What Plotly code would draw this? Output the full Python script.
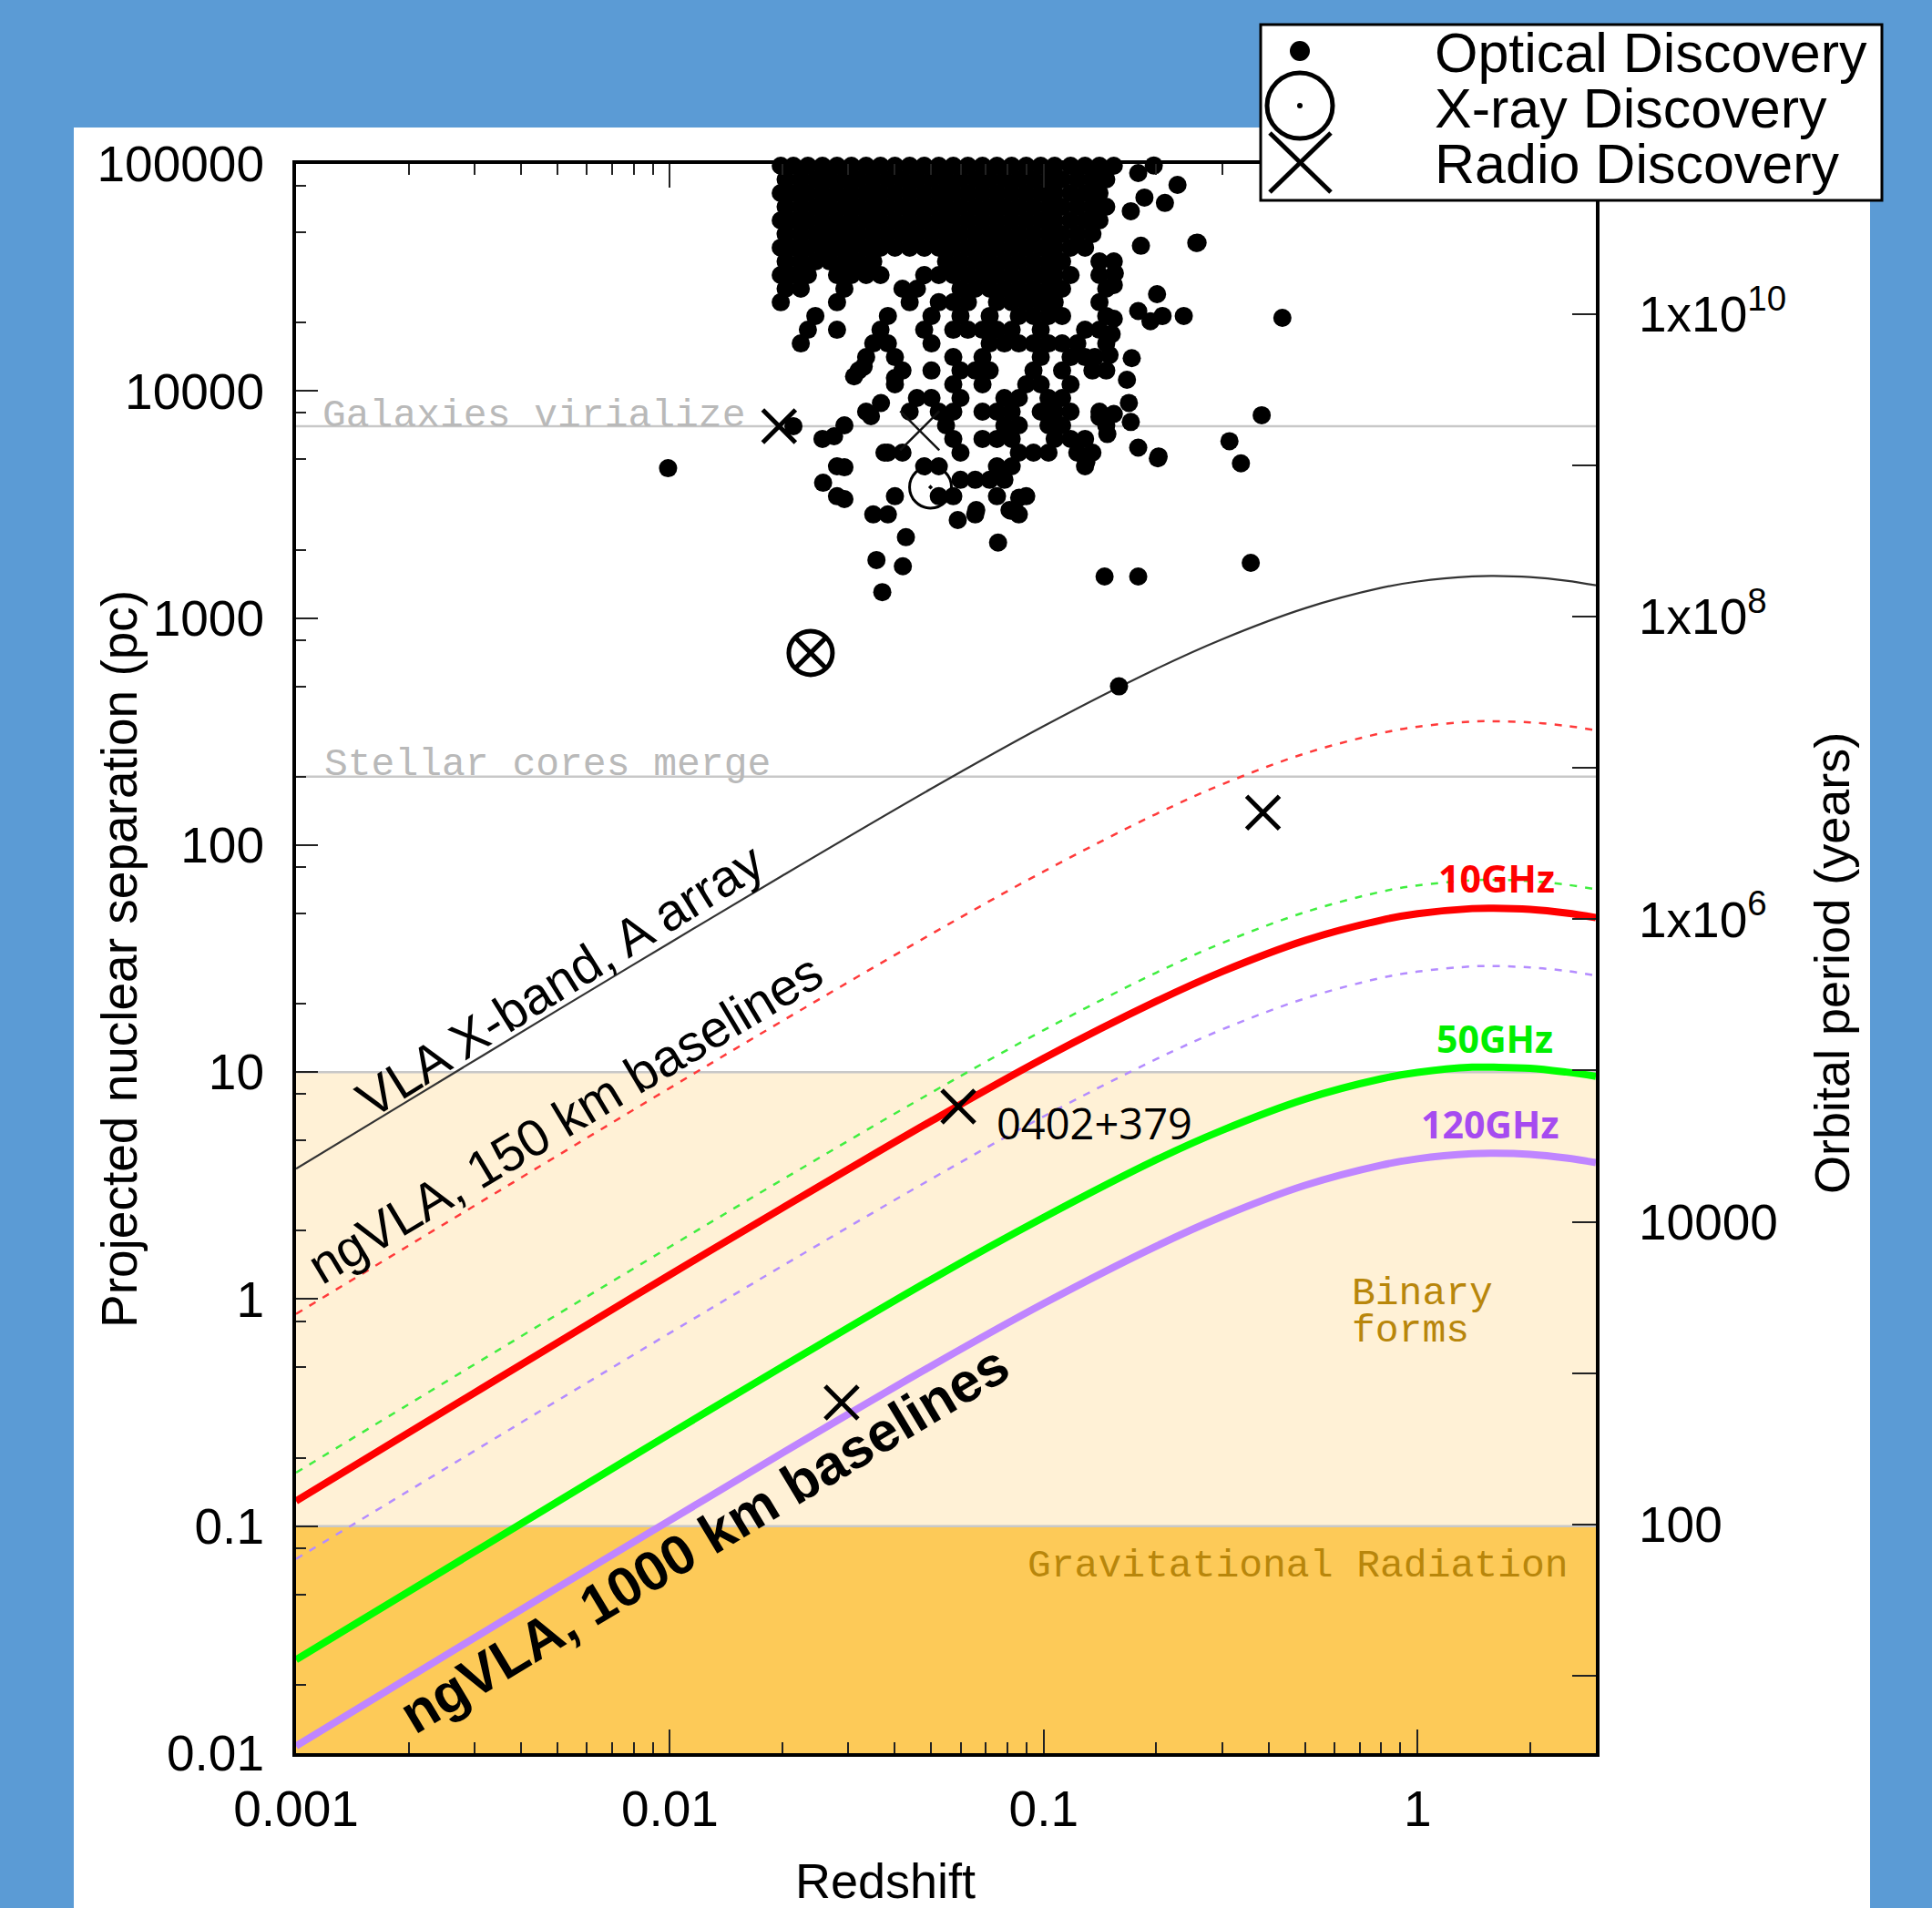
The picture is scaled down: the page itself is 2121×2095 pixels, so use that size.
import plotly.graph_objects as go

# ---------------- data ----------------
z_curve = [0.001, 0.002, 0.005, 0.01, 0.02, 0.05, 0.1, 0.2, 0.3, 0.5, 0.8, 1.0, 1.4, 1.6, 2.0, 2.5, 3.0]
vla_xband_a = [3.75, 7.49, 18.7, 37.1, 73.3, 177, 334, 597, 806, 1104, 1358, 1448, 1525, 1532, 1514, 1460, 1393]
ngvla150_10ghz = [0.86, 1.72, 4.28, 8.51, 16.8, 40.5, 76.5, 137, 185, 253, 311, 332, 350, 351, 347, 335, 320]
ngvla150_50ghz = [0.172, 0.344, 0.856, 1.70, 3.36, 8.11, 15.3, 27.4, 37.0, 50.6, 62.3, 66.4, 69.9, 70.3, 69.4, 66.9, 63.9]
ngvla150_120ghz = [0.0717, 0.143, 0.357, 0.709, 1.40, 3.38, 6.38, 11.4, 15.4, 21.1, 26.0, 27.7, 29.2, 29.3, 28.9, 27.9, 26.6]
ngvla1000_10ghz = [0.129, 0.258, 0.642, 1.28, 2.52, 6.08, 11.5, 20.5, 27.7, 38.0, 46.7, 49.8, 52.5, 52.7, 52.1, 50.2, 47.9]
ngvla1000_50ghz = [0.0258, 0.0515, 0.128, 0.255, 0.504, 1.22, 2.29, 4.11, 5.54, 7.60, 9.34, 9.96, 10.5, 10.5, 10.4, 10.0, 9.59]
ngvla1000_120ghz = [0.01075, 0.0215, 0.0535, 0.106, 0.210, 0.507, 0.956, 1.71, 2.31, 3.17, 3.89, 4.15, 4.37, 4.39, 4.34, 4.18, 3.99]

# optical discoveries: rows of equal separation (pc) and the redshifts of the dots in each row
optical_row_sep = [98200, 85500, 74400, 64800, 56400, 49100, 42800, 37200, 32400, 28200,
                   24600, 21400, 18600, 16200, 14100, 12300, 10700, 9310, 8110, 7060,
                   6150, 5350, 4660, 4060, 3440, 2860]
optical_row_z = [
    [0.0198, 0.0214, 0.0234, 0.0256, 0.0280, 0.0306, 0.0335, 0.0366, 0.0400, 0.0438, 0.0479, 0.0524, 0.0573, 0.0627, 0.0686, 0.0750, 0.0821, 0.0898, 0.0982, 0.107, 0.118, 0.129, 0.141, 0.154],
    [0.0204, 0.0224, 0.0245, 0.0268, 0.0293, 0.0320, 0.0350, 0.0383, 0.0419, 0.0458, 0.0501, 0.0548, 0.0599, 0.0656, 0.0717, 0.0785, 0.0858, 0.0939, 0.103, 0.112, 0.123, 0.135, 0.147],
    [0.0198, 0.0214, 0.0234, 0.0256, 0.0280, 0.0306, 0.0335, 0.0366, 0.0400, 0.0438, 0.0479, 0.0524, 0.0573, 0.0627, 0.0686, 0.0750, 0.0821, 0.0898, 0.0982, 0.107, 0.118, 0.129, 0.141],
    [0.0204, 0.0224, 0.0245, 0.0268, 0.0293, 0.0320, 0.0350, 0.0383, 0.0419, 0.0458, 0.0501, 0.0548, 0.0599, 0.0656, 0.0717, 0.0785, 0.0858, 0.0939, 0.103, 0.112, 0.123, 0.135, 0.147],
    [0.0198, 0.0214, 0.0234, 0.0256, 0.0280, 0.0306, 0.0335, 0.0366, 0.0400, 0.0438, 0.0479, 0.0524, 0.0573, 0.0627, 0.0686, 0.0750, 0.0821, 0.0898, 0.0982, 0.107, 0.118, 0.129, 0.141],
    [0.0204, 0.0224, 0.0245, 0.0268, 0.0293, 0.0320, 0.0350, 0.0383, 0.0419, 0.0458, 0.0501, 0.0548, 0.0599, 0.0656, 0.0717, 0.0785, 0.0858, 0.0939, 0.103, 0.112, 0.123, 0.135],
    [0.0198, 0.0214, 0.0234, 0.0256, 0.0280, 0.0306, 0.0335, 0.0366, 0.0400, 0.0438, 0.0479, 0.0524, 0.0573, 0.0627, 0.0686, 0.0750, 0.0821, 0.0898, 0.0982, 0.107, 0.118, 0.129],
    [0.0204, 0.0224, 0.0245, 0.0268, 0.0293, 0.0320, 0.0350, 0.0548, 0.0599, 0.0656, 0.0717, 0.0785, 0.0858, 0.0939, 0.103, 0.112, 0.141, 0.154],
    [0.0198, 0.0214, 0.0234, 0.0280, 0.0306, 0.0335, 0.0366, 0.0479, 0.0524, 0.0573, 0.0627, 0.0686, 0.0750, 0.0821, 0.0898, 0.0982, 0.107, 0.118, 0.141],
    [0.0204, 0.0224, 0.0293, 0.0419, 0.0458, 0.0599, 0.0656, 0.0717, 0.0785, 0.0858, 0.0939, 0.103, 0.112, 0.147],
    [0.0198, 0.0280, 0.0438, 0.0524, 0.0573, 0.0627, 0.0750, 0.0821, 0.0898, 0.0982, 0.107, 0.141],
    [0.0245, 0.0383, 0.0501, 0.0599, 0.0717, 0.0858, 0.0939, 0.103, 0.112, 0.147],
    [0.0234, 0.0280, 0.0366, 0.0479, 0.0573, 0.0627, 0.0686, 0.0750, 0.0821, 0.0982, 0.129, 0.141],
    [0.0224, 0.0350, 0.0383, 0.0501, 0.0717, 0.0785, 0.0858, 0.0939, 0.103, 0.112, 0.123, 0.147],
    [0.0335, 0.0400, 0.0573, 0.0686, 0.0982, 0.118, 0.129],
    [0.0320, 0.0419, 0.0501, 0.0599, 0.0656, 0.0717, 0.0939, 0.112, 0.135, 0.147],
    [0.0400, 0.0573, 0.0686, 0.0898, 0.0982, 0.118],
    [0.0458, 0.0501, 0.0599, 0.0785, 0.0858, 0.103, 0.112],
    [0.0335, 0.0438, 0.0524, 0.0573, 0.0686, 0.0750, 0.0821, 0.0982, 0.107, 0.118, 0.141],
    [0.0293, 0.0548, 0.0785, 0.0858, 0.103, 0.112, 0.147],
    [0.0256, 0.0573, 0.0686, 0.0750, 0.0821, 0.107, 0.118, 0.129],
    [0.0383, 0.0419, 0.0599, 0.0858, 0.0939, 0.103, 0.123, 0.135],
    [0.0280, 0.0479, 0.0524, 0.0750, 0.0821, 0.129],
    [0.0599, 0.0656, 0.0717, 0.0785],
    [0.0280, 0.0400, 0.0524, 0.0573, 0.0750, 0.0898],
    [0.0350, 0.0383, 0.0656, 0.0858],
]
optical_extra_z = [0.179, 0.197, 0.228, 0.211, 0.186, 0.171, 0.182, 0.256, 0.201, 0.179,
                   0.193, 0.208, 0.237, 0.167, 0.169, 0.171, 0.179, 0.203, 0.148, 0.130,
                   0.0816, 0.086, 0.141, 0.154, 0.172, 0.150, 0.137, 0.152, 0.154, 0.155,
                   0.154, 0.00989, 0.0214, 0.0257, 0.0293, 0.0275, 0.0293, 0.0311, 0.0330,
                   0.0400, 0.0367, 0.0345, 0.0375, 0.0660, 0.0589, 0.0810, 0.0428, 0.0755,
                   0.0357, 0.0420, 0.0370, 0.1455, 0.179, 0.435, 0.258, 0.383, 0.314,
                   0.337, 0.358, 0.159, 0.202]
optical_extra_sep = [91200, 98500, 80900, 67300, 71100, 61900, 43600, 44900, 26700, 22500,
                     20300, 21400, 21400, 11200, 8860, 7300, 5630, 5150, 6460, 4870,
                     2970, 3390, 7680, 7920, 13950, 14400, 14100, 17800, 20800, 33000,
                     29300, 4570, 7000, 3940, 3340, 6320, 4610, 11600, 12800,
                     11400, 8850, 7740, 5350, 2990, 2700, 2990, 2270, 2150,
                     1800, 1690, 1300, 1523, 1523, 21000, 45000, 7820, 6010,
                     4800, 1750, 500, 5050]

radio_z = [0.0196, 0.386, 0.0591, 0.0288]
radio_sep = [7000, 139, 7.05, 0.35]
radio_faint_z = [0.0466]
radio_faint_sep = [6680]
xray_z = [0.0498]
xray_sep = [3770]
xray_radio_z = [0.0238]
xray_radio_sep = [702]

galaxies_virialize_pc = 7000
stellar_cores_merge_pc = 200
binary_band_pc = [0.1, 10]
gw_band_pc = [0.01, 0.1]

x_tickvals = [0.001, 0.01, 0.1, 1]
x_ticktext = ["0.001", "0.01", "0.1", "1"]
x_minor = [0.002, 0.003, 0.004, 0.005, 0.006, 0.007, 0.008, 0.009,
           0.02, 0.03, 0.04, 0.05, 0.06, 0.07, 0.08, 0.09,
           0.2, 0.3, 0.4, 0.5, 0.6, 0.7, 0.8, 0.9, 2, 3]
y_tickvals = [0.01, 0.1, 1, 10, 100, 1000, 10000, 100000]
y_ticktext = ["0.01", "0.1", "1", "10", "100", "1000", "10000", "100000"]
y_minor = [0.02, 0.05, 0.08, 0.2, 0.5, 0.8, 2, 5, 8, 20, 50, 80, 200, 500, 800,
           2000, 5000, 8000, 20000, 50000, 80000]
y2_tickvals = [100, 1e4, 1e6, 1e8, 1e10]
y2_ticktext = ["100", "10000", "1x10<sup>6</sup>", "1x10<sup>8</sup>", "1x10<sup>10</sup>"]
y2_minor = [10, 1e3, 1e5, 1e7, 1e9]

# ---------------- figure ----------------
W, H = 2121, 2095
L, R, T, B = 325, 1752, 180, 1925


def px(x):
    return (x - L) / (R - L)


def py(y):
    return (B - y) / (B - T)


optical_z = []
optical_sep = []
for s, zs in zip(optical_row_sep, optical_row_z):
    optical_z.extend(zs)
    optical_sep.extend([s] * len(zs))
optical_z.extend(optical_extra_z)
optical_sep.extend(optical_extra_sep)

fig = go.Figure()


def add_line(y, color, width, dash=None):
    fig.add_trace(go.Scatter(x=z_curve, y=y, mode="lines",
                             line=dict(color=color, width=width, dash=dash, shape="spline", smoothing=1.0),
                             hoverinfo="skip", showlegend=False))


add_line(ngvla150_10ghz, "#FF3A3A", 2.5, "8px,9px")
add_line(ngvla150_50ghz, "#40EE40", 2.5, "8px,9px")
add_line(ngvla150_120ghz, "#B48CFF", 2.5, "8px,9px")
add_line(vla_xband_a, "#333333", 2.2)
add_line(ngvla1000_10ghz, "#FF0000", 8)
add_line(ngvla1000_50ghz, "#00FF00", 8)
add_line(ngvla1000_120ghz, "#BF85FF", 8)

fig.add_trace(go.Scatter(x=optical_z, y=optical_sep, mode="markers", cliponaxis=False,
                         marker=dict(symbol="circle", size=20, color="black", line=dict(width=0)),
                         hoverinfo="skip", showlegend=False))
fig.add_trace(go.Scatter(x=xray_z, y=xray_sep, mode="markers",
                         marker=dict(symbol="circle-open-dot", size=46, color="black",
                                     line=dict(width=3, color="black")),
                         hoverinfo="skip", showlegend=False))
fig.add_trace(go.Scatter(x=radio_faint_z, y=radio_faint_sep, mode="markers",
                         marker=dict(symbol="x-thin", size=43, color="#111",
                                     line=dict(width=2.5, color="#111")),
                         hoverinfo="skip", showlegend=False))
fig.add_trace(go.Scatter(x=xray_radio_z, y=xray_radio_sep, mode="markers",
                         marker=dict(symbol="circle-open", size=48, color="black",
                                     line=dict(width=5, color="black")),
                         hoverinfo="skip", showlegend=False))
fig.add_trace(go.Scatter(x=xray_radio_z, y=xray_radio_sep, mode="markers",
                         marker=dict(symbol="x-thin", size=36, color="black",
                                     line=dict(width=5, color="black")),
                         hoverinfo="skip", showlegend=False))
fig.add_trace(go.Scatter(x=radio_z, y=radio_sep, mode="markers",
                         marker=dict(symbol="x-thin", size=36, color="black",
                                     line=dict(width=5, color="black")),
                         hoverinfo="skip", showlegend=False))
# secondary axis holder
fig.add_trace(go.Scatter(x=[], y=[], yaxis="y2", showlegend=False, hoverinfo="skip"))

shapes = []
# white panel
shapes.append(dict(type="rect", xref="paper", yref="paper", x0=px(81), x1=px(2053), y0=-0.3, y1=py(140),
                   fillcolor="white", line=dict(width=0), layer="below"))
# bands
shapes.append(dict(type="rect", xref="x", yref="y", x0=z_curve[0], x1=z_curve[-1],
                   y0=binary_band_pc[0], y1=binary_band_pc[1], fillcolor="#FFF1D6",
                   line=dict(width=0), layer="below"))
shapes.append(dict(type="rect", xref="x", yref="y", x0=z_curve[0], x1=z_curve[-1],
                   y0=gw_band_pc[0], y1=gw_band_pc[1], fillcolor="#FDCA58",
                   line=dict(width=0), layer="below"))
for v in [galaxies_virialize_pc, stellar_cores_merge_pc, binary_band_pc[1], binary_band_pc[0]]:
    shapes.append(dict(type="line", xref="x", yref="y", x0=z_curve[0], x1=z_curve[-1], y0=v, y1=v,
                       line=dict(color="#C8C8C8", width=2.5), layer="below"))

# legend box + symbols
shapes.append(dict(type="rect", xref="paper", yref="paper", x0=px(1384), x1=px(2066), y0=py(220), y1=py(27),
                   fillcolor="white", line=dict(color="black", width=3), layer="above"))
shapes.append(dict(type="circle", xref="paper", yref="paper", x0=px(1416), x1=px(1438), y0=py(67), y1=py(45),
                   fillcolor="black", line=dict(width=0), layer="above"))
shapes.append(dict(type="circle", xref="paper", yref="paper", x0=px(1391), x1=px(1463), y0=py(152), y1=py(80),
                   fillcolor="rgba(0,0,0,0)", line=dict(color="black", width=5), layer="above"))
shapes.append(dict(type="circle", xref="paper", yref="paper", x0=px(1424), x1=px(1430), y0=py(119), y1=py(113),
                   fillcolor="black", line=dict(width=0), layer="above"))
shapes.append(dict(type="line", xref="paper", yref="paper", x0=px(1394), x1=px(1461), y0=py(146), y1=py(211),
                   line=dict(color="black", width=5), layer="above"))
shapes.append(dict(type="line", xref="paper", yref="paper", x0=px(1461), x1=px(1394), y0=py(146), y1=py(211),
                   line=dict(color="black", width=5), layer="above"))

SANS = "Liberation Sans, Arial, sans-serif"
MONO = "Liberation Mono, Courier New, monospace"
OPEN = "Open Sans, Liberation Sans, sans-serif"

ann = []


def A(text, x, y, size, color="black", family=SANS, angle=0, xanchor="center", yanchor="middle"):
    ann.append(dict(text=text, x=x, y=y, xref="paper", yref="paper", showarrow=False,
                    font=dict(size=size, color=color, family=family), textangle=angle,
                    xanchor=xanchor, yanchor=yanchor))


A("Projected nuclear separation (pc)", px(131), py(1053), 55, angle=-90)
A("Orbital period (years)", px(2011), py(1058), 54, angle=-90)
A("Redshift", px(972), py(2065), 54)

A("Galaxies virialize", px(352), py(457), 43, color="#B9B9B9", family=MONO, xanchor="left")
A("Stellar cores merge", px(354), py(839), 43, color="#B9B9B9", family=MONO, xanchor="left")
A("Binary", px(1482), py(1420), 43, color="#B8860B", family=MONO, xanchor="left")
A("forms", px(1482), py(1461), 43, color="#B8860B", family=MONO, xanchor="left")
A("Gravitational Radiation", px(1126), py(1719), 43, color="#B8860B", family=MONO, xanchor="left")

A("VLA X-band, A array", px(615), py(1076), 57, angle=-32)
A("ngVLA, 150 km baselines", px(620), py(1228), 57, angle=-31)
A("<b>ngVLA, 1000 km baselines</b>", px(773), py(1690), 61, angle=-31)

A("0402+379", px(1092), py(1233), 47, family=OPEN, xanchor="left")
A("<b>10GHz</b>", px(1643), py(964), 41, color="#FF0000", family=OPEN)
A("<b>50GHz</b>", px(1641), py(1140), 41, color="#00EE00", family=OPEN)
A("<b>120GHz</b>", px(1635), py(1234), 41, color="#A64BF0", family=OPEN)

A("Optical Discovery", px(1573), py(58), 61, xanchor="left")
A("X-ray Discovery", px(1573), py(119), 61, xanchor="left")
A("Radio Discovery", px(1573), py(180), 61, xanchor="left")

tick_common = dict(ticks="inside", tickwidth=2, tickcolor="#222", showline=True, linewidth=4,
                   linecolor="black", showgrid=False, zeroline=False, tickfont=dict(size=55, family=SANS))

fig.update_layout(
    width=W, height=H,
    margin=dict(l=L, r=W - R, t=T, b=H - B, pad=0),
    paper_bgcolor="#5B9BD5", plot_bgcolor="white",
    showlegend=False,
    font=dict(family=SANS, size=55, color="black"),
    xaxis=dict(type="log", range=[-3, 0.47712], tickvals=x_tickvals, ticktext=x_ticktext,
               ticklen=26, mirror="ticks", ticklabelstandoff=10,
               minor=dict(tickvals=x_minor, ticks="inside", ticklen=12, tickwidth=2, tickcolor="#222",
                          showgrid=False),
               **tick_common),
    yaxis=dict(type="log", range=[-2, 5], tickvals=y_tickvals, ticktext=y_ticktext,
               ticklen=24, mirror=False, ticklabelstandoff=20,
               minor=dict(tickvals=y_minor, ticks="inside", ticklen=11, tickwidth=2, tickcolor="#222",
                          showgrid=False),
               **tick_common),
    yaxis2=dict(type="log", overlaying="y", side="right", range=[0.49, 10.99],
                tickvals=y2_tickvals, ticktext=y2_ticktext, ticklen=26, ticklabelstandoff=32,
                minor=dict(tickvals=y2_minor, ticks="inside", ticklen=26, tickwidth=2, tickcolor="#222",
                           showgrid=False),
                **tick_common),
    shapes=shapes,
    annotations=ann,
)

fig.write_html("out.html",
               config={"displayModeBar": False, "staticPlot": True},
               post_script="document.body.style.margin='0px';document.body.style.padding='0px';"
                           "document.body.style.background='#5B9BD5';")
